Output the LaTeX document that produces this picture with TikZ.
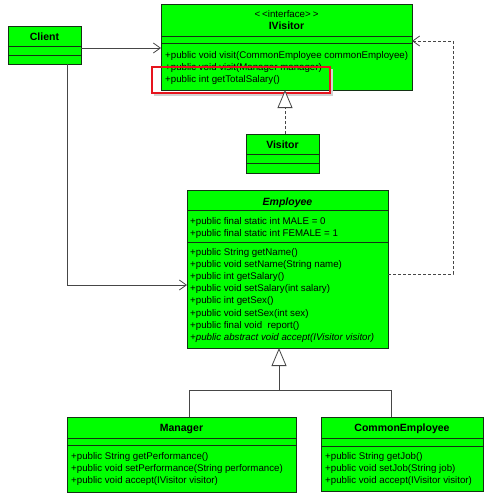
\documentclass[tikz,border=0pt]{standalone}
\usepackage{fontspec}
\setmainfont{Liberation Sans}
\usetikzlibrary{arrows.meta}
\definecolor{umlgreen}{RGB}{0,255,0}
\definecolor{umlborder}{RGB}{20,50,20}
\definecolor{umlline}{RGB}{70,70,70}
\definecolor{hlred}{RGB}{230,20,30}
\newcommand\umlfs{\fontsize{9.7}{12}\selectfont}
\newcommand\umltitle{\fontsize{10.5}{12}\selectfont\bfseries}
\begin{document}
\begin{tikzpicture}[x=1pt,y=-1pt,
  box/.style={draw=umlborder, line width=0.8pt, fill=umlgreen, inner sep=0pt, outer sep=0pt},
  sepline/.style={draw=umlborder, line width=0.8pt},
  txt/.style={anchor=base west, inner sep=0pt, font=\umlfs},
  ttl/.style={anchor=base, inner sep=0pt, font=\umltitle},
  assoc/.style={draw=umlline, line width=0.8pt, -{Straight Barb[length=7pt,width=10pt]}},
  realize/.style={draw=umlline, line width=0.8pt, dash pattern=on 3pt off 2pt},
  gen/.style={draw=umlline, line width=0.8pt}
]
\useasboundingbox (0,0) rectangle (499,498);

% ---------- IVisitor ----------
\node[box, minimum width=251, minimum height=86] (ivis) at (286.5,47) {};
\draw[sepline] (ivis.west |- 0,36) -- (ivis.east |- 0,36);
\draw[sepline] (ivis.west |- 0,43) -- (ivis.east |- 0,43);
\node[anchor=base, inner sep=0pt, font=\umlfs] (ivst) at (286.5,17.5) {<\kern2pt<interface>\kern2pt>};
\node[ttl] (ivname) at (286.5,29) {IVisitor};
\node[txt] (ivm1) at (165,58.5) {+public void visit(CommonEmployee commonEmployee)};
\node[txt] (ivm2) at (165,70.5) {+public void visit(Manager manager)};
\node[txt] (ivm3) at (165,82.5) {+public int getTotalSalary()};

% highlight rectangle
\draw[gray!35, line width=2pt] (154,95) -- (332,95) -- (332,69);
\node[draw=hlred, line width=1.6pt, inner sep=0pt, minimum width=178, minimum height=26] (hl) at (241,80) {};

% ---------- Client ----------
\node[box, minimum width=73, minimum height=38] (client) at (44.5,45) {};
\draw[sepline] (client.west |- 0,46) -- (client.east |- 0,46);
\draw[sepline] (client.west |- 0,55) -- (client.east |- 0,55);
\node[ttl] (clname) at (44.5,40) {Client};

% ---------- Visitor ----------
\node[box, minimum width=73, minimum height=39] (visitor) at (282.5,153.5) {};
\draw[sepline] (visitor.west |- 0,154) -- (visitor.east |- 0,154);
\draw[sepline] (visitor.west |- 0,163) -- (visitor.east |- 0,163);
\node[ttl] (viname) at (282.5,148) {Visitor};

% ---------- Employee ----------
\node[box, minimum width=201, minimum height=158] (emp) at (287.5,269) {};
\draw[sepline] (emp.west |- 0,210) -- (emp.east |- 0,210);
\draw[sepline] (emp.west |- 0,242) -- (emp.east |- 0,242);
\node[ttl, font=\umltitle\itshape] (empname) at (287.5,205) {Employee};
\node[txt] (ea1) at (190,224.5) {+public final static int MALE = 0};
\node[txt] (ea2) at (190,236.5) {+public final static int FEMALE = 1};
\node[txt] (em1) at (190,255.5) {+public String getName()};
\node[txt] (em2) at (190,267.6) {+public void setName(String name)};
\node[txt] (em3) at (190,279.7) {+public int getSalary()};
\node[txt] (em4) at (190,291.8) {+public void setSalary(int salary)};
\node[txt] (em5) at (190,303.9) {+public int getSex()};
\node[txt] (em6) at (190,316.0) {+public void setSex(int sex)};
\node[txt] (em7) at (190,328.1) {+public final void\ \ report()};
\node[txt, font=\umlfs\itshape] (em8) at (190,340.2) {+public abstract void accept(IVisitor visitor)};

% ---------- Manager ----------
\node[box, minimum width=229, minimum height=75] (mgr) at (181.5,454.5) {};
\draw[sepline] (mgr.west |- 0,438) -- (mgr.east |- 0,438);
\draw[sepline] (mgr.west |- 0,445) -- (mgr.east |- 0,445);
\node[ttl] (mgrname) at (181.5,431) {Manager};
\node[txt] (mm1) at (71,459.5) {+public String getPerformance()};
\node[txt] (mm2) at (71,471.5) {+public void setPerformance(String performance)};
\node[txt] (mm3) at (71,483.5) {+public void accept(IVisitor visitor)};

% ---------- CommonEmployee ----------
\node[box, minimum width=162, minimum height=74] (ce) at (402,454) {};
\draw[sepline] (ce.west |- 0,438) -- (ce.east |- 0,438);
\draw[sepline] (ce.west |- 0,446) -- (ce.east |- 0,446);
\node[ttl] (cename) at (402,431) {CommonEmployee};
\node[txt] (cm1) at (325,459.5) {+public String getJob()};
\node[txt] (cm2) at (325,471.5) {+public void setJob(String job)};
\node[txt] (cm3) at (325,483.5) {+public void accept(IVisitor visitor)};

% ---------- connectors ----------
% Client -> IVisitor
\draw[assoc] (client.east |- 0,48) -- (ivis.west |- 0,48);
% Client -> Employee
\draw[assoc] (client.south -| 67,0) |- (emp.west |- 0,285);
% Visitor realizes IVisitor
\draw[realize, -{Triangle[open, length=18pt, width=15pt, fill=white]}] (visitor.north -| 285,0) -- (ivis.south -| 285,0);
% Employee depends on IVisitor
\coordinate (d1) at (453,274);
\coordinate (d2) at (453,41);
\draw[realize, -{Straight Barb[length=7pt,width=10pt]}] (emp.east |- d1) -- (d1) -- (d2) -- (ivis.east |- d2);
% generalization
\coordinate (j) at (279,390);
\draw[gen, -{Triangle[open, length=18pt, width=15pt, fill=white]}] (mgr.north -| 189,0) |- (j) -- (emp.south -| j);
\draw[gen] (ce.north -| 391,0) |- (j);
\end{tikzpicture}
\end{document}
